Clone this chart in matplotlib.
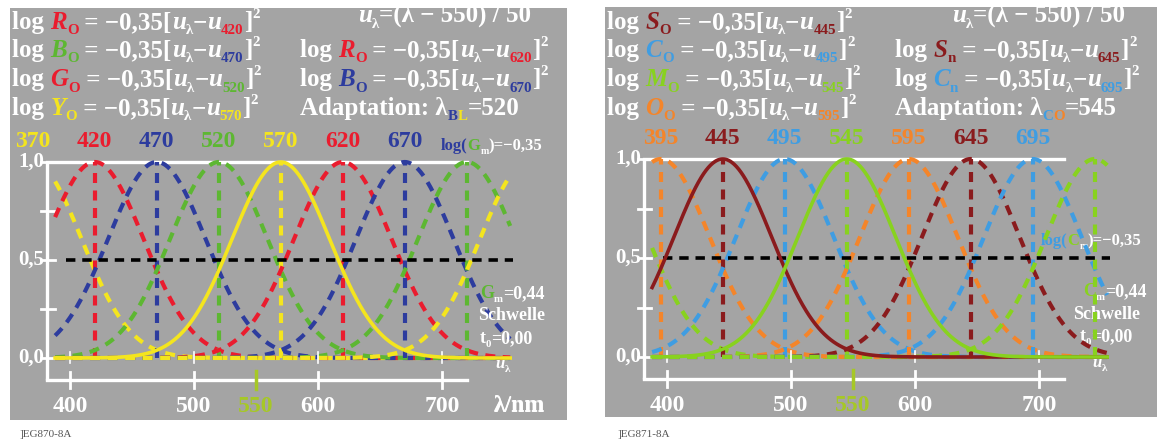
import numpy as np
import matplotlib
matplotlib.use("Agg")
import matplotlib.pyplot as plt

# ---------------- data ----------------
lam_ref = 550          # u_lambda = (lambda - 550) / 50
lam_step = 50
coeff = -0.35          # log R = -0.35 (u - u0)^2
lam_start, lam_end = 388, 755

p1_peaks  = [370, 420, 470, 520, 570, 620, 670, 720, 770]
p1_kinds  = ['Y', 'R', 'B', 'G', 'Y', 'R', 'B', 'G', 'Y']
p1_solid  = [570]
p1_labels = [370, 420, 470, 520, 570, 620, 670]

p2_peaks  = [345, 395, 445, 495, 545, 595, 645, 695, 745]
p2_kinds  = ['M', 'O', 'S', 'C', 'M', 'O', 'S', 'C', 'M']
p2_solid  = [445, 545]
p2_labels = [395, 445, 495, 545, 595, 645, 695]

x_ticks = [400, 500, 600, 700]
u_ticks = [-3, -1, 1, 3]
y_ticks = [0.0, 0.25, 0.5, 0.75, 1.0]
y_ticklabels = {0.0: '0,0', 0.5: '0,5', 1.0: '1,0'}
threshold = 0.5
adapt1, adapt2 = 520, 545

# ---------------- style ----------------
W, H = 1165, 441
GREY = '#a4a4a4'
WHITE = 'white'
FONT = 'Liberation Serif'
COL = {'R': '#ea1c2e', 'B': '#2d3c9e', 'G': '#5db732', 'Y': '#f4e51e',
       'S': '#8a1b1d', 'C': '#3f9de2', 'M': '#88d21f', 'O': '#f4852a'}
C550 = '#a6c826'

fig = plt.figure(figsize=(W / 100, H / 100), dpi=100)
fig.patch.set_facecolor('white')
renderer = fig.canvas.get_renderer()


def text_width(t):
    return t.get_window_extent(renderer).width


def rich(px, py, parts, size=18, ha='left'):
    """parts: (text, color, kind) ; kind: '', 'i', 's' (sub), 'p' (sup), 'is'"""
    objs = []
    off = 0.0
    for txt, col, kind in parts:
        fs = size * 0.6 if ('s' in kind or 'p' in kind) else size
        dy = -size * 0.22 if 's' in kind else (size * 0.45 if 'p' in kind else 0)
        st = 'italic' if 'i' in kind else 'normal'
        t = fig.text(0, 0, txt + '|', fontsize=fs, family=FONT, fontweight='bold',
                     fontstyle=st)
        bar = fig.text(0, 0, '|', fontsize=fs, family=FONT, fontweight='bold', fontstyle=st)
        w = text_width(t) - text_width(bar)
        t.remove(); bar.remove()
        objs.append((txt, col, fs, dy, st, off))
        off += w * 72 / fig.dpi
    shift = 0
    if ha == 'center':
        shift = -off / 2
    elif ha == 'right':
        shift = -off
    for txt, col, fs, dy, st, o in objs:
        plt.annotate(txt, (px, H - py), xycoords='figure pixels',
                     xytext=(o + shift, dy), textcoords='offset points',
                     fontsize=fs, color=col, family=FONT, fontweight='bold',
                     fontstyle=st, va='baseline', ha='left', annotation_clip=False)


def curve(lam, peak):
    u = (lam - lam_ref) / lam_step
    u0 = (peak - lam_ref) / lam_step
    return 10 ** (coeff * (u - u0) ** 2)


def make_panel(box, px400, py0, py1, peaks, kinds, solid, labels):
    x0, y0, x1, y1 = box
    ax = fig.add_axes([x0 / W, 1 - y1 / H, (x1 - x0) / W, (y1 - y0) / H])
    ax.set_facecolor(GREY)
    for s in ax.spines.values():
        s.set_visible(False)
    ax.set_xticks([]); ax.set_yticks([])
    sx = 1.24
    lam = lambda px: 400 + (px - px400) / sx
    val = lambda py: (py0 - py) / (py0 - py1)
    ax.set_xlim(lam(x0), lam(x1))
    ax.set_ylim(val(y1), val(y0))
    xl, xr = 381.5, 720
    yb = -0.113
    # axes frame
    ax.plot([xl, xl], [yb, 1.0], color=WHITE, lw=2.4, solid_capstyle='butt', zorder=2)
    ax.plot([xl, xr], [yb, yb], color=WHITE, lw=2.4, zorder=2)
    ax.plot([xl, xr], [1.0, 1.0], color=WHITE, lw=2.4, zorder=2)
    for yt in y_ticks:
        ax.plot([xl - 5, xl + 6], [yt, yt], color=WHITE, lw=2, zorder=2)
        if yt in y_ticklabels:
            ax.text(xl - 2.5, yt, y_ticklabels[yt], color=WHITE, fontsize=15,
                    family=FONT, fontweight='bold', ha='right', va='center')
    for xt in x_ticks:
        ax.plot([xt, xt], [yb - 0.04, yb + 0.04], color=WHITE, lw=2, zorder=2)
        ax.text(xt, yb - 0.08, str(xt), color=WHITE, fontsize=17, family=FONT,
                fontweight='bold', ha='center', va='top')
    for ut in u_ticks:
        xt = lam_ref + ut * lam_step
        ax.plot([xt, xt], [-0.025, 0.03], color=WHITE, lw=1.2, zorder=6)
    ax.plot([550, 550], [yb - 0.045, yb + 0.045], color=C550, lw=2.5, zorder=3)
    ax.text(550, yb - 0.08, '550', color=C550, fontsize=17, family=FONT,
            fontweight='bold', ha='center', va='top')
    ax.text(lam(494), yb - 0.08, 'λ/nm', color=WHITE, fontsize=17, family=FONT,
            fontweight='bold', ha='left', va='top')
    ax.text(lam_end - 12, -0.03, 'u', color=WHITE, fontsize=12, family=FONT,
            fontweight='bold', fontstyle='italic', ha='left', va='center', zorder=7)
    ax.text(lam_end - 4, -0.06, 'λ', color=WHITE, fontsize=8, family=FONT,
            fontweight='bold', ha='left', va='center', zorder=7)
    # threshold line
    ax.plot([397, 757], [threshold, threshold], color='black', lw=2.6,
            ls=(0, (2.6, 1.9)), zorder=5)
    # curves
    lamv = np.linspace(lam_start, lam_end, 600)
    for pk, kd in zip(peaks, kinds):
        c = COL[kd]
        if pk in solid:
            ax.plot(lamv, curve(lamv, pk), color=c, lw=2.6, zorder=6)
        else:
            ax.plot(lamv, curve(lamv, pk), color=c, lw=3.0, ls=(0, (2.4, 1.8)), zorder=4)
        if lam_start <= pk <= lam_end:
            ax.plot([pk, pk], [0, 1], color=c, lw=3.0, ls=(0, (2.4, 1.8)), zorder=4)
    for pk, kd in zip(peaks, kinds):
        if pk in labels:
            ax.text(pk, 1.075, str(pk), color=COL[kd], fontsize=17, family=FONT,
                    fontweight='bold', ha='center', va='baseline')
    return ax


ax1 = make_panel((10, 8, 567, 420), 70, 358, 162, p1_peaks, p1_kinds, p1_solid, p1_labels)
ax2 = make_panel((605, 7, 1157, 417), 667, 357, 159, p2_peaks, p2_kinds, p2_solid, p2_labels)


def formula(px, py, letter, lcol, sub, num, ncol, sq=True):
    parts = [('log ', WHITE, ''), (letter, lcol, 'i'), (sub, lcol, 's'),
             (' = −0,35[', WHITE, ''), ('u', WHITE, 'i'), ('λ', WHITE, 's'),
             ('−', WHITE, ''), ('u', WHITE, 'i'), (str(num), ncol, 's'), (']', WHITE, '')]
    if sq:
        parts.append(('2', WHITE, 'p'))
    rich(px, py, parts)


R, B, G, Y = COL['R'], COL['B'], COL['G'], COL['Y']
S, Cc, M, O = COL['S'], COL['C'], COL['M'], COL['O']

# panel 1 formulas
formula(12, 29, 'R', R, 'O', 420, R)
formula(12, 57, 'B', G, 'O', 470, B)
formula(12, 86, 'G', R, 'O', 520, G)
formula(12, 115, 'Y', Y, 'O', 570, Y)
rich(358, 22, [('u', WHITE, 'i'), ('λ', WHITE, 's'), ('=(λ − 550) / 50', WHITE, '')])
formula(300, 57, 'R', R, 'O', 620, R)
formula(300, 86, 'B', B, 'O', 670, B)
rich(300, 115, [('Adaptation: λ', WHITE, ''), ('B', B, 's'), ('L', Y, 's'),
                ('=%d' % adapt1, WHITE, '')])
rich(441, 150, [('log(', B, ''), ('G', G, ''), ('m', WHITE, 's'), (')=−0,35', WHITE, '')], size=12)
rich(480, 298, [('G', G, ''), ('m', WHITE, 's'), ('=0,44', WHITE, '')], size=13)
rich(478, 320, [('Schwelle', WHITE, '')], size=13)
rich(480, 343, [('t', WHITE, ''), ('0', WHITE, 's'), ('=0,00', WHITE, '')], size=13)

# panel 2 formulas
formula(607, 29, 'S', S, 'O', 445, S)
formula(607, 57, 'C', Cc, 'O', 495, Cc)
formula(607, 86, 'M', M, 'O', 545, M)
formula(607, 115, 'O', O, 'O', 595, O)
rich(952, 22, [('u', WHITE, 'i'), ('λ', WHITE, 's'), ('=(λ − 550) / 50', WHITE, '')])
formula(895, 57, 'S', S, 'n', 645, S)
formula(895, 86, 'C', Cc, 'n', 695, Cc)
rich(895, 115, [('Adaptation: λ', WHITE, ''), ('C', Cc, 's'), ('O', O, 's'),
                ('=%d' % adapt2, WHITE, '')])
rich(1041, 245, [('log(', Cc, ''), ('C', M, ''), ('m', WHITE, 's'), (')=−0,35', WHITE, '')], size=12)
rich(1083, 296, [('C', M, ''), ('m', WHITE, 's'), ('=0,44', WHITE, '')], size=13)
rich(1073, 319, [('Schwelle', WHITE, '')], size=13)
rich(1080, 341, [('t', WHITE, ''), ('0', WHITE, 's'), ('=0,00', WHITE, '')], size=13)

# footers
fig.text(20 / W, 1 - 437 / H, ']EG870-8A', fontsize=8, family=FONT, color='#555555')
fig.text(618 / W, 1 - 437 / H, ']EG871-8A', fontsize=8, family=FONT, color='#555555')

fig.savefig('out.png', dpi=100, facecolor='white')
